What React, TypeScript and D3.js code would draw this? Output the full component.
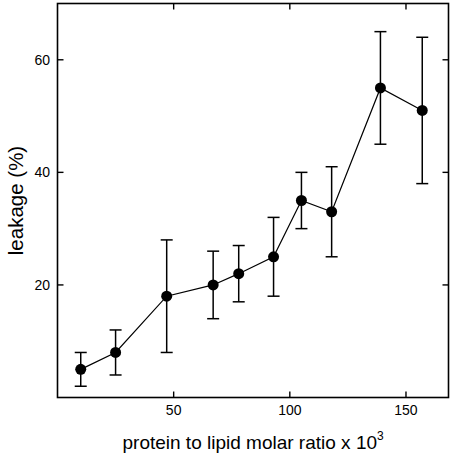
import React from "react";
import * as d3 from "d3";

const ratios = [10, 25, 47, 67, 78, 93, 105, 118, 139, 157];
const leakage = [5, 8, 18, 20, 22, 25, 35, 33, 55, 51];
const errUpper = [8, 12, 28, 26, 27, 32, 40, 41, 65, 64];
const errLower = [2, 4, 8, 14, 17, 18, 30, 25, 45, 38];
const xTicks = [50, 100, 150];
const yTicks = [20, 40, 60];

const W = 455;
const H = 455;
const L = 57.5;
const R = 448.5;
const T = 3.5;
const B = 397.5;
const FONT = "Arial, 'Liberation Sans', sans-serif";

export default function App() {
  const x = d3.scaleLinear().domain([0, 168.3]).range([L, R]);
  const y = d3.scaleLinear().domain([0, 70]).range([B, T]);
  const line = d3
    .line<number>()
    .x((_, i) => x(ratios[i]))
    .y((d) => y(d));
  const tk = 6;
  const cap = 6;
  return (
    <svg
      width={W}
      height={H}
      style={{ position: "absolute", left: 0, top: 0, background: "#fff" }}
    >
      <rect x={0} y={0} width={W} height={H} fill="#fff" />
      {/* frame */}
      <rect
        x={L}
        y={T}
        width={R - L}
        height={B - T}
        fill="none"
        stroke="#000"
        strokeWidth={1.6}
      />
      {/* x ticks */}
      {xTicks.map((t) => (
        <g key={"x" + t}>
          <line x1={x(t)} x2={x(t)} y1={B} y2={B - tk} stroke="#000" strokeWidth={1.4} />
          <line x1={x(t)} x2={x(t)} y1={T} y2={T + tk} stroke="#000" strokeWidth={1.4} />
          <text
            x={x(t)}
            y={415}
            textAnchor="middle"
            fontFamily={FONT}
            fontSize={14}
            fill="#000"
          >
            {t}
          </text>
        </g>
      ))}
      {/* y ticks */}
      {yTicks.map((t) => (
        <g key={"y" + t}>
          <line x1={L} x2={L + tk} y1={y(t)} y2={y(t)} stroke="#000" strokeWidth={1.4} />
          <line x1={R} x2={R - tk} y1={y(t)} y2={y(t)} stroke="#000" strokeWidth={1.4} />
          <text
            x={50}
            y={y(t) + 5}
            textAnchor="end"
            fontFamily={FONT}
            fontSize={14}
            fill="#000"
          >
            {t}
          </text>
        </g>
      ))}
      {/* error bars */}
      {ratios.map((r, i) => (
        <g key={"e" + i} stroke="#000" strokeWidth={1.5}>
          <line x1={x(r)} x2={x(r)} y1={y(errUpper[i])} y2={y(errLower[i])} />
          <line x1={x(r) - cap} x2={x(r) + cap} y1={y(errUpper[i])} y2={y(errUpper[i])} />
          <line x1={x(r) - cap} x2={x(r) + cap} y1={y(errLower[i])} y2={y(errLower[i])} />
        </g>
      ))}
      {/* connecting line */}
      <path d={line(leakage) || ""} fill="none" stroke="#000" strokeWidth={1.2} />
      {/* markers */}
      {ratios.map((r, i) => (
        <circle key={"p" + i} cx={x(r)} cy={y(leakage[i])} r={5.5} fill="#000" />
      ))}
      {/* axis titles */}
      <text
        x={122.5}
        y={449}
        fontFamily={FONT}
        fontSize={19}
        fill="#000"
      >
        protein to lipid molar ratio x 10
        <tspan fontSize={12} dy={-9}>
          3
        </tspan>
      </text>
      <text
        transform={`translate(22.5, 200.5) rotate(-90)`}
        textAnchor="middle"
        fontFamily={FONT}
        fontSize={20.5}
        fill="#000"
      >
        leakage (%)
      </text>
    </svg>
  );
}
